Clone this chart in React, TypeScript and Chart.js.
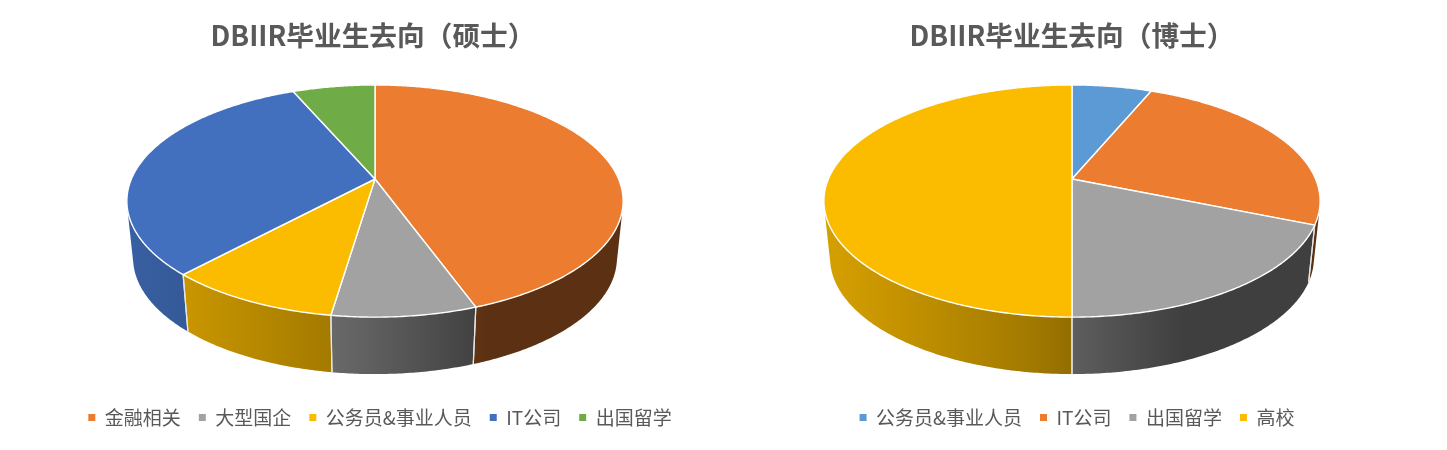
import React, { useEffect, useRef } from "react";
import { Chart, registerables } from "chart.js";

Chart.register(...registerables);

const mastersCategories = ["金融相关", "大型国企", "公务员&事业人员", "IT公司", "出国留学"];
const mastersValues = [44.48, 7.87, 9.5, 31.7, 6.45];
const mastersColors = ["#EC7C30", "#A2A2A2", "#FBBC00", "#4270BF", "#6FAB46"];
const phdCategories = ["公务员&事业人员", "IT公司", "出国留学", "高校"];
const phdValues = [1, 4, 3, 8];
const phdColors = ["#5B9AD4", "#EC7C30", "#A2A2A2", "#FBBC00"];

const FONT = "'Noto Sans CJK SC', 'Noto Sans', sans-serif";
const INK = "#595959";

// perspective of the tilted disc
const TILT = 0.19;
const A_RATIO = 1.45;
const B_RATIO = 0.666;
const DEPTH_RATIO = 0.339;
const BOTTOM_SHRINK = 0.975;
const SHADE_STOPS: [number, number][] = [[-1, 0.85], [-0.77, 0.8], [-0.17, 0.65], [0, 0.58], [0.4, 0.41], [0.46, 0.39], [1, 0.39]];

function shadeColor(hex: string, s: number) {
  const n = parseInt(hex.slice(1), 16);
  const r = Math.round(((n >> 16) & 255) * s);
  const g = Math.round(((n >> 8) & 255) * s);
  const b = Math.round((n & 255) * s);
  return `rgb(${r},${g},${b})`;
}

const pie3d = {
  id: "pie3d",
  afterLayout(chart: any, _a: any, opts: any) {
    if (chart.legend) {
      chart.legend.left += opts.legendShift;
      chart.legend.right += opts.legendShift;
    }
  },
  beforeDatasetsDraw(chart: any, _a: any, opts: any) {
    const ctx = chart.ctx;
    const arcs = chart.getDatasetMeta(0).data;
    const colors = chart.data.datasets[0].backgroundColor;
    const first = arcs[0];
    const R = first.outerRadius;
    const cx = first.x + opts.dx;
    const cy = opts.apexY;
    const a = R * A_RATIO;
    const b = R * B_RATIO;
    const depth = R * DEPTH_RATIO;
    const top = (ang: number) => {
      const u = Math.cos(ang);
      const v = Math.sin(ang);
      const w = 1 - TILT * v;
      return [cx + (a * u) / w, cy + (b * v) / w];
    };
    const bottom = (ang: number) => {
      const [x, y] = top(ang);
      return [cx + (x - cx) * BOTTOM_SHRINK, y + depth];
    };
    const samples = (s: number, e: number) => {
      const n = Math.max(2, Math.ceil((e - s) / 0.01));
      const out: number[] = [];
      for (let i = 0; i <= n; i++) out.push(s + ((e - s) * i) / n);
      return out;
    };
    const rx = a / Math.sqrt(1 - TILT * TILT);

    ctx.save();
    ctx.lineJoin = "round";
    // side walls: far slices first, each built of consistently wound quads
    const order = arcs
      .map((el: any, i: number) => ({ el, i }))
      .sort((p: any, q: any) => Math.sin((p.el.startAngle + p.el.endAngle) / 2) - Math.sin((q.el.startAngle + q.el.endAngle) / 2));
    for (const { el, i } of order) {
      const angs = samples(el.startAngle, el.endAngle);
      const grad = ctx.createLinearGradient(cx - rx, 0, cx + rx, 0);
      for (const [t, s] of SHADE_STOPS) grad.addColorStop((t + 1) / 2, shadeColor(colors[i], s));
      ctx.beginPath();
      for (let k = 0; k < angs.length - 1; k++) {
        let q = [top(angs[k]), top(angs[k + 1]), bottom(angs[k + 1]), bottom(angs[k])];
        let area = 0;
        q.forEach((p, j) => {
          const n = q[(j + 1) % 4];
          area += p[0] * n[1] - n[0] * p[1];
        });
        if (area < 0) q = q.reverse();
        q.forEach((p, j) => (j ? ctx.lineTo(p[0], p[1]) : ctx.moveTo(p[0], p[1])));
        ctx.closePath();
      }
      ctx.fillStyle = grad;
      ctx.fill("nonzero");
    }
    // pale seams between wall pieces
    ctx.strokeStyle = "#E6E6E6";
    ctx.lineWidth = 1.2;
    arcs.forEach((el: any) => {
      for (const g of [el.startAngle, el.endAngle]) {
        if (Math.sin(g) < -0.05) continue;
        const [x0, y0] = top(g);
        const [x1, y1] = bottom(g);
        ctx.beginPath();
        ctx.moveTo(x0, y0);
        ctx.lineTo(x1, y1);
        ctx.stroke();
      }
    });
    // top surface
    arcs.forEach((el: any, i: number) => {
      const angs = samples(el.startAngle, el.endAngle);
      ctx.beginPath();
      ctx.moveTo(cx, cy);
      angs.forEach((g: number) => {
        const [x, y] = top(g);
        ctx.lineTo(x, y);
      });
      ctx.closePath();
      ctx.fillStyle = colors[i];
      ctx.fill();
      ctx.strokeStyle = "#FFFFFF";
      ctx.lineWidth = 1.4;
      ctx.stroke();
    });
    ctx.restore();
    return false;
  },
};

function Pie3D({ labels, values, colors, title, left, dx, legendShift }: any) {
  const ref = useRef<HTMLCanvasElement>(null);
  useEffect(() => {
    const chart = new Chart(ref.current as HTMLCanvasElement, {
      type: "pie",
      data: { labels, datasets: [{ data: values, backgroundColor: colors, borderWidth: 0, radius: 168 }] },
      plugins: [pie3d],
      options: {
        responsive: false,
        animation: false,
        layout: { padding: { bottom: 13 } },
        plugins: {
          pie3d: { dx, apexY: 179, legendShift },
          tooltip: { enabled: false },
          title: {
            display: true,
            text: title,
            color: INK,
            font: { family: FONT, size: 27.7, weight: "bold", lineHeight: 1.2 },
            padding: { top: 19, bottom: 8 },
          },
          legend: {
            position: "bottom",
            labels: {
              boxWidth: 7,
              boxHeight: 7,
              padding: 18,
              color: INK,
              font: { family: FONT, size: 19 },
            },
          },
        } as any,
      },
    } as any);
    return () => chart.destroy();
  }, []);
  return <canvas ref={ref} width={704} height={450} style={{ position: "absolute", left, top: 0, display: "block" }} />;
}

export default function App() {
  return (
    <div style={{ position: "absolute", left: 0, top: 0, width: 1447, height: 450, background: "#fff", overflow: "hidden" }}>
      <Pie3D labels={mastersCategories} values={mastersValues} colors={mastersColors} title="DBIIR毕业生去向（硕士）" left={21} dx={2} legendShift={7} />
      <Pie3D labels={phdCategories} values={phdValues} colors={phdColors} title="DBIIR毕业生去向（博士）" left={720} dx={0} legendShift={5} />
    </div>
  );
}
